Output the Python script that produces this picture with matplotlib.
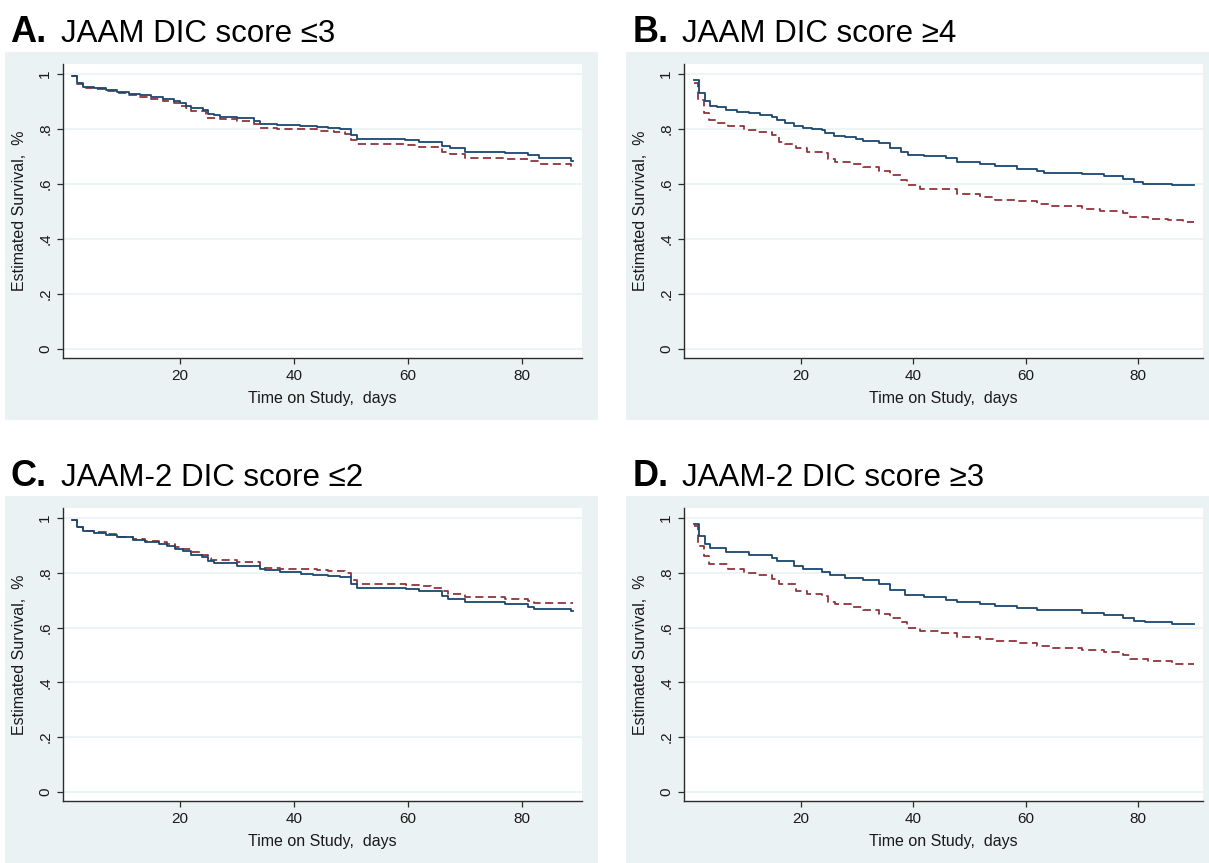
import matplotlib
matplotlib.use('Agg')
import matplotlib.pyplot as plt
from matplotlib.patches import Rectangle

plt.rcParams['font.family'] = ['Liberation Sans', 'DejaVu Sans']

# ---------------- data ----------------
letters = ['A.', 'B.', 'C.', 'D.']
titles = ['JAAM DIC score \u22643', 'JAAM DIC score \u22654',
          'JAAM-2 DIC score \u22642', 'JAAM-2 DIC score \u22653']
x_ticks = [20, 40, 60, 80]
y_ticks = [0, 0.2, 0.4, 0.6, 0.8, 1.0]
y_tick_labels = ['0', '.2', '.4', '.6', '.8', '1']
x_label = 'Time on Study,  days'
y_label = 'Estimated Survival,  %'

# Panel A
a_blue_t = [1, 2, 3, 5, 7, 9, 11, 13, 15, 17, 19, 20, 21, 22, 24, 25, 26, 27, 30, 33, 34, 37, 41, 44, 46, 48, 50, 51, 59.5, 62, 66, 67.3, 70, 77, 81, 83, 88.6, 89]
a_blue_s = [0.993, 0.968, 0.952, 0.948, 0.943, 0.935, 0.928, 0.922, 0.915, 0.910, 0.900, 0.893, 0.885, 0.875, 0.868, 0.855, 0.850, 0.845, 0.838, 0.830, 0.818, 0.814, 0.812, 0.806, 0.802, 0.798, 0.778, 0.762, 0.759, 0.753, 0.738, 0.729, 0.717, 0.711, 0.705, 0.693, 0.685, 0.685]
a_red_t = [1, 2, 3, 5, 7, 9, 11, 13, 15, 17, 19, 20, 21, 22, 24.5, 27, 30, 33, 34, 37, 44, 47, 49, 50, 51, 60, 62, 66, 67.3, 70, 77, 81, 83, 88.6, 89]
a_red_s = [0.993, 0.965, 0.948, 0.944, 0.938, 0.930, 0.922, 0.916, 0.908, 0.903, 0.895, 0.885, 0.877, 0.866, 0.840, 0.835, 0.830, 0.818, 0.802, 0.798, 0.794, 0.790, 0.780, 0.760, 0.745, 0.740, 0.735, 0.717, 0.707, 0.695, 0.690, 0.683, 0.671, 0.662, 0.662]

# Panel B
b_blue_t = [0.9, 1.9, 2.9, 3.9, 5, 6.7, 8.7, 10.8, 12.8, 14.8, 15.8, 17.1, 18.8, 20.4, 22, 23.8, 24.2, 25.8, 27.8, 29.8, 31.1, 33.8, 35.8, 37.8, 39.1, 41.8, 45.8, 47.8, 51.8, 54.5, 58.5, 61.9, 63.2, 69.9, 73.9, 77.2, 79.2, 80.9, 85.9, 89.9]
b_blue_s = [0.978, 0.930, 0.902, 0.883, 0.878, 0.868, 0.862, 0.857, 0.851, 0.845, 0.832, 0.823, 0.811, 0.804, 0.800, 0.796, 0.784, 0.774, 0.769, 0.762, 0.757, 0.747, 0.729, 0.717, 0.705, 0.701, 0.693, 0.680, 0.674, 0.666, 0.656, 0.648, 0.640, 0.635, 0.629, 0.617, 0.608, 0.601, 0.595, 0.595]
b_red_t = [0.9, 1.7, 2.7, 3.7, 5.1, 7.1, 9.8, 12.4, 14.8, 16.1, 17.1, 19.1, 21.1, 23.8, 24.8, 26.1, 29.1, 31.1, 33.8, 35.8, 37.8, 38.8, 41.1, 44.8, 47.8, 51.8, 54.5, 58.5, 61.9, 64.5, 69.9, 73.2, 77.2, 78.5, 81.8, 85.2, 87.9, 89.9]
b_red_s = [0.968, 0.905, 0.857, 0.832, 0.823, 0.811, 0.796, 0.787, 0.778, 0.753, 0.745, 0.729, 0.717, 0.711, 0.689, 0.680, 0.672, 0.662, 0.648, 0.632, 0.614, 0.595, 0.583, 0.580, 0.565, 0.553, 0.543, 0.537, 0.526, 0.518, 0.510, 0.502, 0.495, 0.480, 0.474, 0.468, 0.462, 0.462]

# Panel C
c_blue_t = [1, 2, 3, 5, 7, 9, 11.7, 13.8, 16.4, 17.8, 19.1, 20.5, 21.9, 23.9, 24.9, 26, 30, 34, 35, 37.5, 41.3, 43.3, 46, 48, 50, 51, 59.6, 62, 66, 67, 70, 77, 81, 82, 88.6, 89]
c_blue_s = [0.993, 0.967, 0.951, 0.945, 0.937, 0.929, 0.921, 0.912, 0.906, 0.898, 0.886, 0.880, 0.866, 0.858, 0.844, 0.835, 0.824, 0.812, 0.808, 0.801, 0.797, 0.791, 0.787, 0.783, 0.760, 0.745, 0.741, 0.732, 0.714, 0.704, 0.693, 0.684, 0.674, 0.669, 0.662, 0.662]
c_red_t = [1, 2, 3, 5, 7, 9, 11.7, 13.8, 16.4, 17.8, 19.1, 20.5, 21.9, 23.9, 24.9, 25.5, 30, 34, 35, 37.5, 44, 46, 49, 50, 51, 59.6, 62, 64, 66, 67, 70, 77, 81, 82, 89]
c_red_s = [0.993, 0.967, 0.952, 0.947, 0.940, 0.932, 0.924, 0.917, 0.912, 0.905, 0.893, 0.888, 0.875, 0.865, 0.853, 0.847, 0.838, 0.822, 0.818, 0.813, 0.808, 0.805, 0.800, 0.772, 0.758, 0.754, 0.750, 0.745, 0.733, 0.722, 0.710, 0.703, 0.696, 0.688, 0.688]

# Panel D
d_blue_t = [0.9, 1.9, 2.9, 3.9, 6.7, 10.8, 14.8, 15.8, 18.8, 20.4, 23.8, 25.1, 27.8, 31.1, 33.8, 35.8, 38.5, 41.8, 45.8, 47.8, 51.8, 54.5, 58.5, 61.9, 69.9, 73.9, 77.2, 79.2, 81.2, 85.9, 89.9]
d_blue_s = [0.979, 0.933, 0.906, 0.890, 0.876, 0.866, 0.854, 0.842, 0.824, 0.815, 0.803, 0.790, 0.781, 0.773, 0.760, 0.736, 0.720, 0.710, 0.702, 0.692, 0.686, 0.678, 0.672, 0.663, 0.653, 0.645, 0.633, 0.624, 0.619, 0.611, 0.611]
d_red_t = [0.9, 1.7, 2.7, 3.7, 7.1, 9.8, 12.4, 14.8, 16.1, 19.1, 21.1, 23.8, 24.8, 26.1, 29.1, 31.1, 33.8, 35.8, 37.8, 38.8, 41.1, 44.8, 47.8, 51.8, 54.5, 58.5, 61.9, 64.5, 69.9, 73.9, 77.2, 78.5, 81.8, 85.9, 89.9]
d_red_s = [0.970, 0.899, 0.860, 0.833, 0.814, 0.799, 0.790, 0.778, 0.757, 0.732, 0.724, 0.714, 0.693, 0.684, 0.675, 0.665, 0.651, 0.635, 0.619, 0.599, 0.586, 0.580, 0.566, 0.558, 0.552, 0.544, 0.534, 0.526, 0.519, 0.511, 0.501, 0.485, 0.477, 0.468, 0.468]

blue_series = [(a_blue_t, a_blue_s), (b_blue_t, b_blue_s), (c_blue_t, c_blue_s), (d_blue_t, d_blue_s)]
red_series = [(a_red_t, a_red_s), (b_red_t, b_red_s), (c_red_t, c_red_s), (d_red_t, d_red_s)]

# ---------------- layout ----------------
W, H = 1209, 863
BG = '#eaf2f3'
BLUE = '#1a476f'
RED = '#90353b'

fig = plt.figure(figsize=(W / 100, H / 100), dpi=100)
fig.patch.set_facecolor('white')


def fbox(x0, y0, x1, y1):
    return [x0 / W, 1 - y1 / H, (x1 - x0) / W, (y1 - y0) / H]


bg_boxes = [(5, 52, 598, 420), (626, 52, 1209, 420), (5, 496, 598, 863), (626, 496, 1209, 863)]
ax_boxes = [(63, 64, 582, 358), (684, 64, 1203, 358), (63, 508, 582, 801), (684, 508, 1203, 801)]
xlims = [(-0.5, 90.5), (-0.8, 91.5), (-0.5, 90.5), (-0.8, 91.5)]
letter_pos = [(10, 42), (633, 42), (10, 486), (633, 486)]
title_pos = [(61, 42), (682, 42), (61, 486), (682, 486)]

for i in range(4):
    x0, y0, x1, y1 = bg_boxes[i]
    fig.patches.append(Rectangle((x0 / W, 1 - y1 / H), (x1 - x0) / W, (y1 - y0) / H,
                                 transform=fig.transFigure, facecolor=BG,
                                 edgecolor='none', zorder=-10))
    ax = fig.add_axes(fbox(*ax_boxes[i]))
    ax.set_zorder(5)
    ax.set_facecolor('white')
    ax.set_xlim(*xlims[i])
    ax.set_ylim(-0.033, 1.036)
    for sp in ['top', 'right']:
        ax.spines[sp].set_visible(False)
    for sp in ['left', 'bottom']:
        ax.spines[sp].set_color('#2b2b2b')
        ax.spines[sp].set_linewidth(1.0)
    ax.set_xticks(x_ticks)
    ax.set_yticks(y_ticks)
    ax.set_yticklabels(y_tick_labels, rotation=90, va='center')
    ax.tick_params(axis='both', direction='out', length=4.3, width=0.9,
                   color='#2b2b2b', labelsize=11, labelcolor='#1a1a1a', pad=3.5)
    for y in y_ticks:
        ax.axhline(y, color=BG, lw=1.2, zorder=1)
    bt, bs = blue_series[i]
    rt, rs = red_series[i]
    ax.step(bt, bs, where='post', color=BLUE, lw=1.3, zorder=3)
    ax.step(rt, rs, where='post', color=RED, lw=1.3, linestyle=(0, (4.5, 2.5)), zorder=2)
    ax.set_xlabel(x_label, fontsize=11.5, color='#1a1a1a', labelpad=6)
    ax.set_ylabel(y_label, fontsize=11.5, color='#1a1a1a', labelpad=8)

    lx, ly = letter_pos[i]
    fig.text(lx / W, 1 - ly / H, letters[i], fontsize=26, fontweight='bold',
             ha='left', va='baseline', color='black')
    tx, ty = title_pos[i]
    fig.text(tx / W, 1 - ty / H, titles[i], fontsize=22.5, ha='left',
             va='baseline', color='black')

fig.savefig('out.png', dpi=100, facecolor='white')
